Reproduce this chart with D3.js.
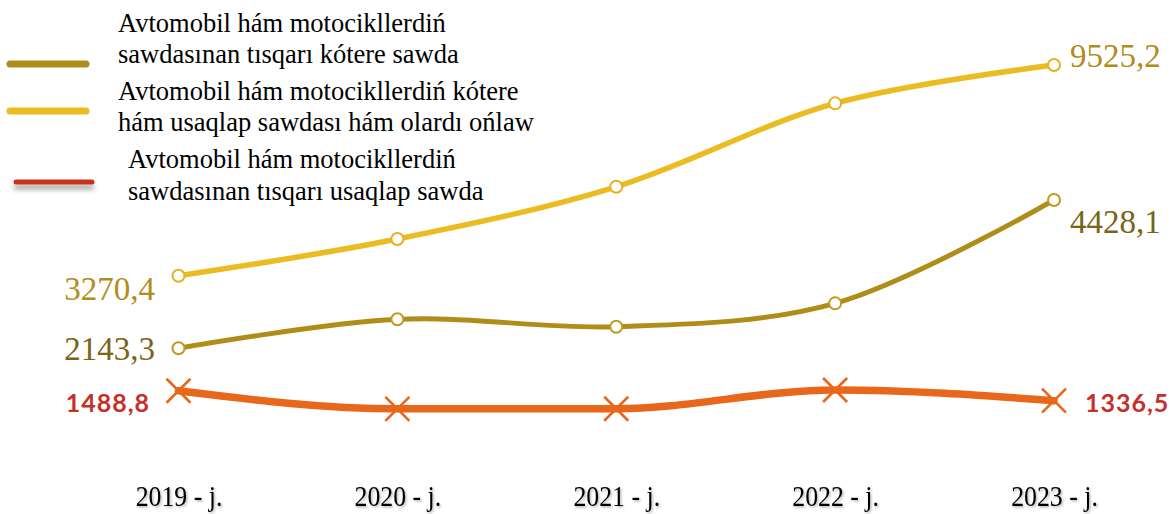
<!DOCTYPE html>
<html>
<head>
<meta charset="utf-8">
<script src="https://cdn.jsdelivr.net/npm/d3@7"></script>
<style>
  html, body { margin: 0; padding: 0; background: #ffffff; }
  svg { display: block; }
</style>
</head>
<body>
<svg id="chart" width="1171" height="514"></svg>
<script>
// ---- data ----
const years = ["2019 - j.", "2020 - j.", "2021 - j.", "2022 - j.", "2023 - j."];
const wholesaleValues = [2143.3, 2590, 2476, 2836, 4428.1];   // olive, primary axis
const tradeRepairValues = [3270.4, 4360, 5912, 8388, 9525.2]; // yellow, secondary axis
const retailValues = [1488.8, 1210, 1212, 1501, 1336.5];      // orange, primary axis
const seriesNames = [
  ["Avtomobil hám motocikllerdiń", "sawdasınan tısqarı kótere sawda"],
  ["Avtomobil hám motocikllerdiń kótere", "hám usaqlap sawdası hám olardı ońlaw"],
  ["Avtomobil hám motocikllerdiń", "sawdasınan tısqarı usaqlap sawda"]
];
const firstLabels = ["2143,3", "3270,4", "1488,8"];
const lastLabels = ["4428,1", "9525,2", "1336,5"];

// ---- layout ----
const svg = d3.select("#chart");
const defs = svg.append("defs");
const sh = defs.append("filter").attr("id", "legShadow")
  .attr("filterUnits", "userSpaceOnUse")
  .attr("x", 0).attr("y", 160).attr("width", 120).attr("height", 50);
sh.append("feDropShadow").attr("dx", 0).attr("dy", 5).attr("stdDeviation", 2.5).attr("flood-color", "#000").attr("flood-opacity", 0.35);
const tsh = defs.append("filter").attr("id", "txtShadow").attr("x", "-10%").attr("y", "-20%").attr("width", "130%").attr("height", "150%");
tsh.append("feDropShadow").attr("dx", 1.5).attr("dy", 1.5).attr("stdDeviation", 1).attr("flood-color", "#000").attr("flood-opacity", 0.3);

const x = d3.scalePoint().domain(years).range([178.5, 1054]);
const yPrimary = d3.scaleLinear().domain([0, 6000]).range([487.4, 98]);
const ySecondary = d3.scaleLinear().domain([0, 12000]).range([385.9, -18.3]);

const series = [
  { values: wholesaleValues, y: yPrimary, color: "#B08C18", marker: "circle", mstroke: "#BE9A1E", width: 5,
    labelColor: "#7A6417", labelFont: "serif", curve: d3.curveCatmullRom.alpha(0.5) },
  { values: tradeRepairValues, y: ySecondary, color: "#EBBB22", marker: "circle", mstroke: "#E3B31F", width: 5.5,
    labelColor: "#B08D1B", labelFont: "serif", curve: d3.curveCatmullRom.alpha(0.5) },
  { values: retailValues, y: yPrimary, color: "#E8671B", marker: "x", mstroke: "#E8671B", width: 7.5,
    labelColor: "#C4302A", labelFont: "sans", curve: d3.curveMonotoneX }
];

const line = (s) => d3.line()
  .x((d, i) => x(years[i]))
  .y(d => s.y(d))
  .curve(s.curve);

// lines
series.forEach(s => {
  svg.append("path")
    .datum(s.values)
    .attr("d", line(s))
    .attr("fill", "none")
    .attr("stroke", s.color)
    .attr("stroke-width", s.width)
    .attr("stroke-linecap", "round");
});

// markers
series.forEach(s => {
  const g = svg.append("g");
  s.values.forEach((v, i) => {
    const cx = x(years[i]), cy = s.y(v);
    if (s.marker === "circle") {
      g.append("circle").attr("cx", cx).attr("cy", cy).attr("r", 6)
        .attr("fill", "#fff").attr("stroke", s.mstroke).attr("stroke-width", 2);
    } else {
      const r = 12;
      g.append("path")
        .attr("d", `M${cx - r},${cy - r}L${cx + r},${cy + r}M${cx - r},${cy + r}L${cx + r},${cy - r}`)
        .attr("stroke", s.mstroke).attr("stroke-width", 2.6).attr("fill", "none");
    }
  });
});

// data labels (first & last)
series.forEach((s, k) => {
  const serif = s.labelFont === "serif";
  const font = serif ? "'Liberation Serif', 'Times New Roman', serif" : "Lato, 'Open Sans', sans-serif";
  const size = serif ? 33 : 25;
  const weight = serif ? "normal" : "bold";
  const y0 = s.y(s.values[0]);
  const y1 = s.y(s.values[s.values.length - 1]);
  const leftDy = [12, 24, 21][k];
  const rightDy = [33, 2, 11][k];
  svg.append("text")
    .attr("x", serif ? 155 : 150).attr("y", y0 + leftDy)
    .attr("text-anchor", "end")
    .attr("font-family", font).attr("font-size", size).attr("font-weight", weight)
    .attr("letter-spacing", serif ? 0 : 1)
    .attr("fill", s.labelColor)
    .text(firstLabels[k]);
  svg.append("text")
    .attr("x", serif ? 1070 : 1085).attr("y", y1 + rightDy)
    .attr("text-anchor", "start")
    .attr("font-family", font).attr("font-size", size).attr("font-weight", weight)
    .attr("letter-spacing", serif ? 0 : 1)
    .attr("fill", s.labelColor)
    .text(lastLabels[k]);
});

// x axis (labels only)
const xAxis = d3.axisBottom(x).tickSize(0).tickPadding(0);
const ax = svg.append("g").attr("transform", "translate(0,506)").call(xAxis);
ax.select(".domain").remove();
ax.selectAll("text")
  .attr("font-family", "'Liberation Serif', 'Times New Roman', serif")
  .attr("font-size", 30)
  .attr("fill", "#000")
  .attr("filter", "url(#txtShadow)")
  .attr("y", 0)
  .attr("dy", 0)
  .attr("transform", "scale(0.86,1)");

// legend
const legendY = [64, 111, 182];
const legendTextX = [118, 118, 128];
const legendTextY = [[32, 63], [100, 131], [168, 200]];
const legendLineX = [[10, 86], [10, 86], [16, 92]];
series.forEach((s, k) => {
  svg.append("line")
    .attr("x1", legendLineX[k][0]).attr("x2", legendLineX[k][1])
    .attr("y1", legendY[k]).attr("y2", legendY[k])
    .attr("stroke", k === 2 ? "#C8321C" : s.color)
    .attr("stroke-width", k === 2 ? 5 : 7)
    .attr("stroke-linecap", "round")
    .attr("filter", k === 2 ? "url(#legShadow)" : null);
  seriesNames[k].forEach((t, j) => {
    svg.append("text")
      .attr("x", legendTextX[k]).attr("y", legendTextY[k][j])
      .attr("font-family", "'Liberation Serif', 'Times New Roman', serif")
      .attr("font-size", 26.5)
      .attr("fill", "#000")
      .text(t);
  });
});
</script>
</body>
</html>
